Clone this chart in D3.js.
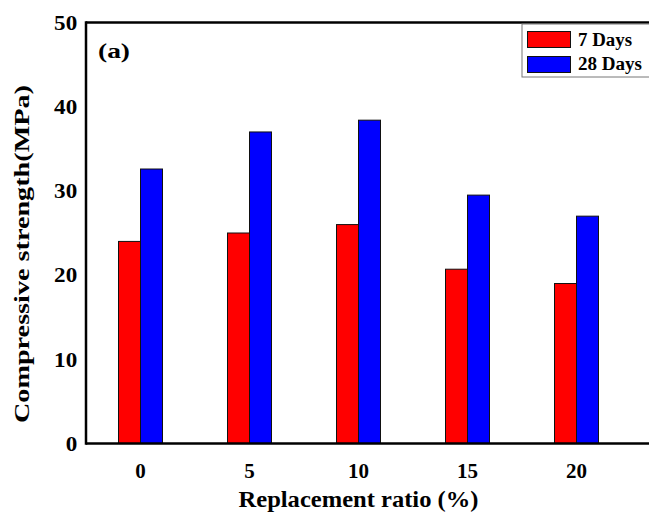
<!DOCTYPE html>
<html>
<head>
<meta charset="utf-8">
<script src="https://cdn.jsdelivr.net/npm/d3@7"></script>
<style>
html,body{margin:0;padding:0;background:#fff;}
svg{display:block;}
text{font-family:"Liberation Serif","Times New Roman",serif;font-weight:bold;fill:#000;}
</style>
</head>
<body>
<svg id="chart" width="649" height="522"></svg>
<script>
const categories = ["0", "5", "10", "15", "20"];
const seriesNames = ["7 Days", "28 Days"];
const days7 = [24.0, 25.0, 26.0, 20.7, 19.0];
const days28 = [32.6, 37.0, 38.4, 29.5, 27.0];
const yTicks = [0, 10, 20, 30, 40, 50];
const colors = ["#ff0000", "#0000ff"];

const svg = d3.select("#chart");
const m = {left: 86, top: 22.5, right: 631, bottom: 443.5};

const x = d3.scaleBand().domain(categories).range([m.left, m.right]).padding(0);
const x1 = d3.scaleBand().domain(seriesNames).range([0, 44]).padding(0);
const y = d3.scaleLinear().domain([0, 50]).range([m.bottom, m.top]);

const values = [days7, days28];

// bars
seriesNames.forEach((s, si) => {
  svg.append("g").selectAll("rect").data(categories).join("rect")
    .attr("x", d => x(d) + x.bandwidth() / 2 - 22 + x1(s))
    .attr("y", (d, i) => y(values[si][i]))
    .attr("width", x1.bandwidth())
    .attr("height", (d, i) => y(0) - y(values[si][i]))
    .attr("fill", colors[si])
    .attr("stroke", "#111")
    .attr("stroke-width", 1);
});

// frame
svg.append("line").attr("x1", m.left).attr("x2", 660).attr("y1", m.top).attr("y2", m.top)
  .attr("stroke", "#000").attr("stroke-width", 2.5);
svg.append("line").attr("x1", m.left).attr("x2", 660).attr("y1", m.bottom).attr("y2", m.bottom)
  .attr("stroke", "#000").attr("stroke-width", 2.5);
svg.append("line").attr("x1", m.left).attr("x2", m.left).attr("y1", m.top - 1.2).attr("y2", m.bottom + 1.2)
  .attr("stroke", "#000").attr("stroke-width", 2.5);

// y axis labels
const yAxis = d3.axisLeft(y).tickValues(yTicks).tickSize(0).tickPadding(8);
const gy = svg.append("g").attr("transform", `translate(${m.left},0)`).call(yAxis);
gy.select(".domain").remove();
gy.selectAll("text").style("font-size", "21px").style("font-family", "Liberation Serif")
  .style("font-weight", "bold").attr("x", -8).attr("transform", "scale(1.1,1)");

// x axis labels
const xAxis = d3.axisBottom(x).tickSize(0).tickPadding(10);
const gx = svg.append("g").attr("transform", `translate(0,${m.bottom})`).call(xAxis);
gx.select(".domain").remove();
gx.selectAll("text").style("font-size", "21px").style("font-family", "Liberation Serif")
  .style("font-weight", "bold").attr("dy", "0.71em").attr("y", 20);

// axis titles
svg.append("text").attr("x", (m.left + m.right) / 2).attr("y", 507)
  .attr("text-anchor", "middle").style("font-size", "23px")
  .attr("textLength", 240).attr("lengthAdjust", "spacingAndGlyphs")
  .text("Replacement ratio (%)");
svg.append("text").attr("transform", `translate(29,254) rotate(-90)`)
  .attr("text-anchor", "middle").style("font-size", "22px")
  .attr("textLength", 338).attr("lengthAdjust", "spacingAndGlyphs")
  .text("Compressive strength(MPa)");

// panel label
svg.append("text").attr("x", 98).attr("y", 58).style("font-size", "22px")
  .attr("textLength", 32).attr("lengthAdjust", "spacingAndGlyphs").text("(a)");

// legend
const lg = svg.append("g");
lg.append("rect").attr("x", 522).attr("y", 24).attr("width", 140).attr("height", 53)
  .attr("fill", "#fff").attr("stroke", "#777").attr("stroke-width", 1);
const legendLens = [54, 64];
seriesNames.forEach((s, i) => {
  lg.append("rect").attr("x", 527.5).attr("y", 31.5 + i * 25).attr("width", 43).attr("height", 16)
    .attr("fill", colors[i]).attr("stroke", "#111").attr("stroke-width", 1);
  lg.append("text").attr("x", 578).attr("y", 46 + i * 24).style("font-size", "18px")
    .attr("textLength", legendLens[i]).attr("lengthAdjust", "spacingAndGlyphs").text(s);
});
</script>
</body>
</html>
